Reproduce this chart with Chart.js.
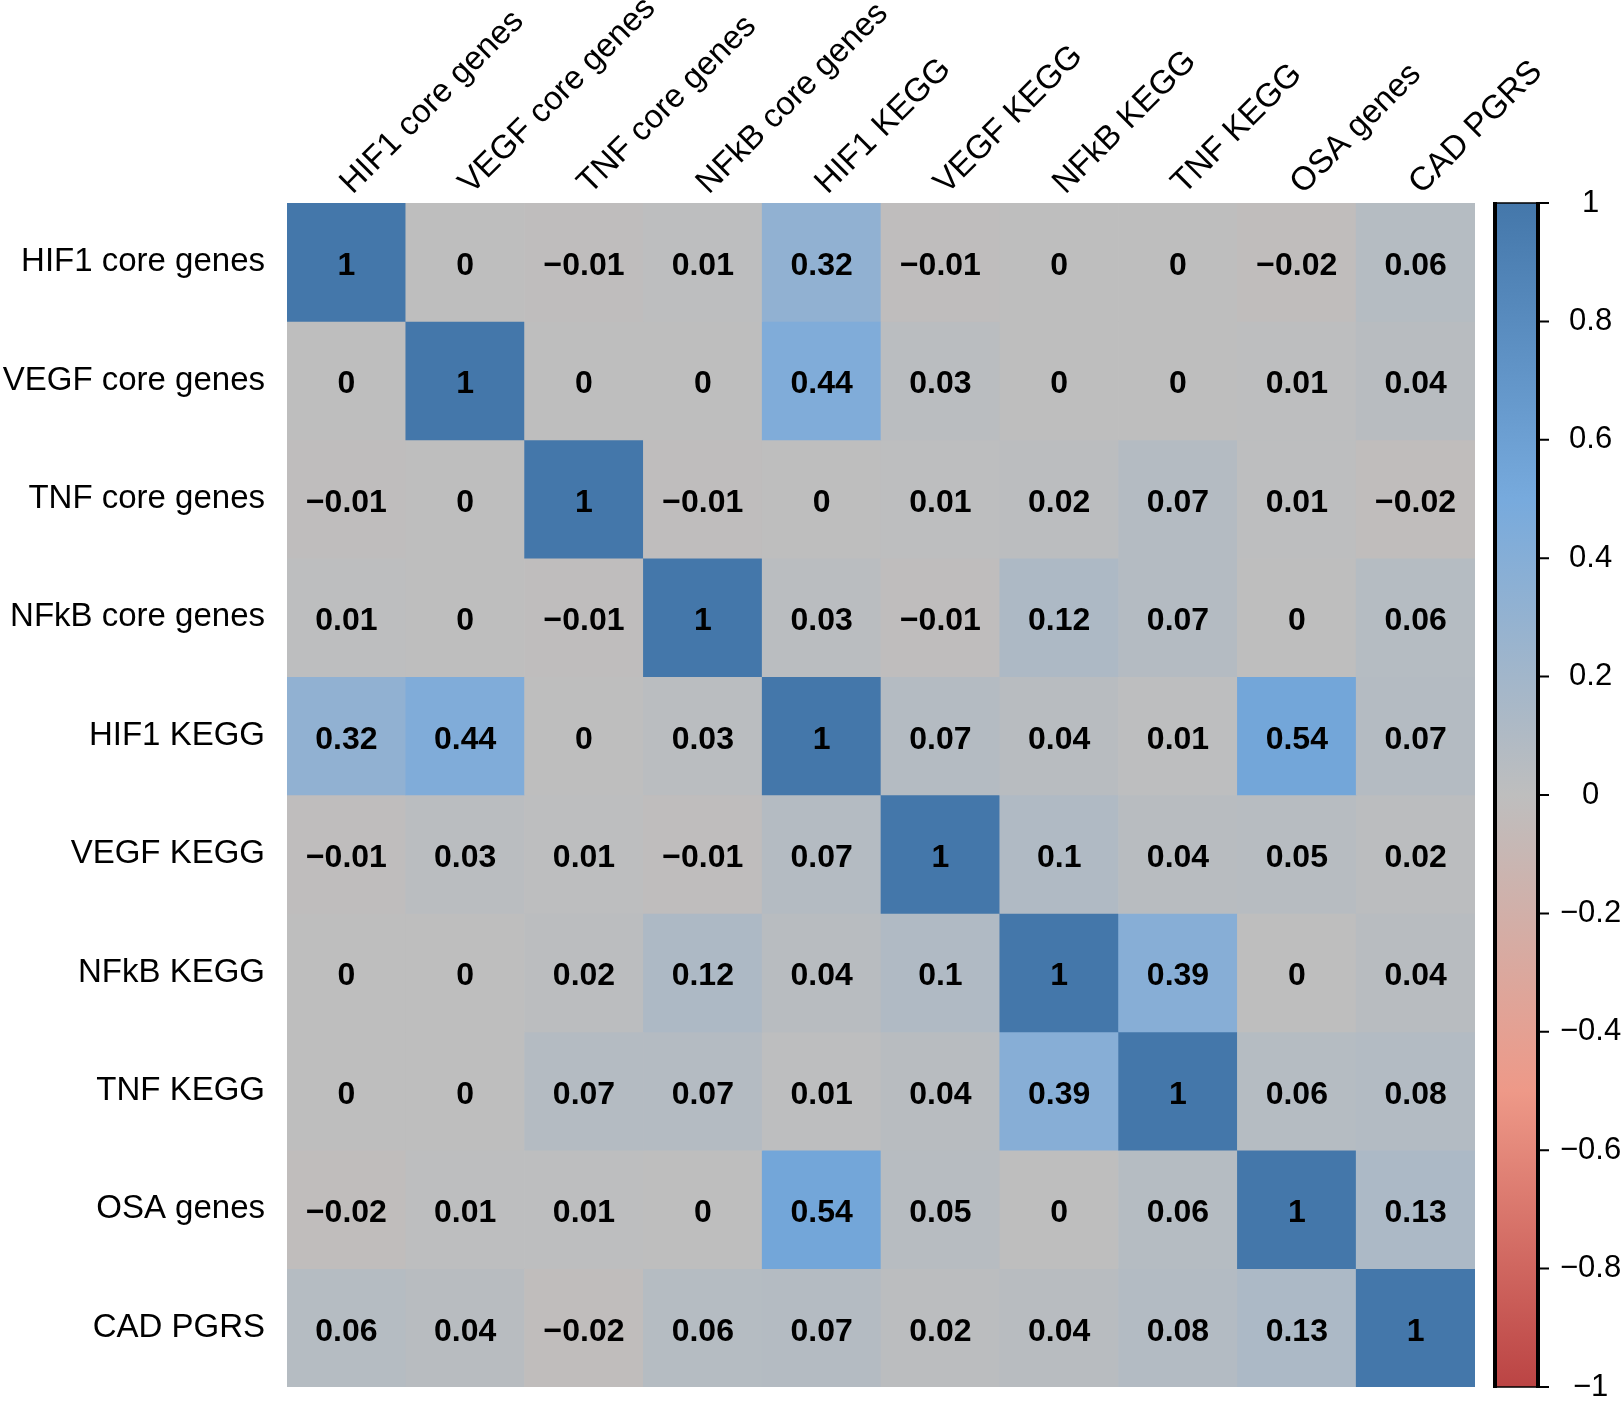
<!DOCTYPE html>
<html>
<head>
<meta charset="utf-8">
<script src="https://cdn.jsdelivr.net/npm/chart.js@4/dist/chart.umd.min.js"></script>
<style>
  html, body { margin: 0; padding: 0; background: #fff; }
  canvas { display: block; }
</style>
</head>
<body>
<canvas id="corrChart" width="1622" height="1401"></canvas>
<script>
// etiquetas de filas y columnas (misma lista)
const rowLabels = ['HIF1 core genes', 'VEGF core genes', 'TNF core genes', 'NFkB core genes', 'HIF1 KEGG',
                   'VEGF KEGG', 'NFkB KEGG', 'TNF KEGG', 'OSA genes', 'CAD PGRS'];
const colLabels = rowLabels.slice();

// correlaciones, una fila por etiqueta
const corrValues = [
    [1, 0, -0.01, 0.01, 0.32, -0.01, 0, 0, -0.02, 0.06],
    [0, 1, 0, 0, 0.44, 0.03, 0, 0, 0.01, 0.04],
    [-0.01, 0, 1, -0.01, 0, 0.01, 0.02, 0.07, 0.01, -0.02],
    [0.01, 0, -0.01, 1, 0.03, -0.01, 0.12, 0.07, 0, 0.06],
    [0.32, 0.44, 0, 0.03, 1, 0.07, 0.04, 0.01, 0.54, 0.07],
    [-0.01, 0.03, 0.01, -0.01, 0.07, 1, 0.1, 0.04, 0.05, 0.02],
    [0, 0, 0.02, 0.12, 0.04, 0.1, 1, 0.39, 0, 0.04],
    [0, 0, 0.07, 0.07, 0.01, 0.04, 0.39, 1, 0.06, 0.08],
    [-0.02, 0.01, 0.01, 0, 0.54, 0.05, 0, 0.06, 1, 0.13],
    [0.06, 0.04, -0.02, 0.06, 0.07, 0.02, 0.04, 0.08, 0.13, 1]
];

// escala de color
const paletteValues = [-1, -0.5, 0, 0.5, 1];
const paletteColors = ['#BB4444', '#EE9988', '#BEBEBE', '#77AADD', '#4477AA'];
const colorbarTicks = [1, 0.8, 0.6, 0.4, 0.2, 0, -0.2, -0.4, -0.6, -0.8, -1];

const FONT = "'Liberation Sans', Arial, Helvetica, sans-serif";

function hexToRgb(h) {
    return [parseInt(h.slice(1, 3), 16), parseInt(h.slice(3, 5), 16), parseInt(h.slice(5, 7), 16)];
}

function corrColor(v) {
    for (let i = 0; i < paletteValues.length - 1; i++) {
        const a = paletteValues[i], b = paletteValues[i + 1];
        if (v >= a && v <= b) {
            const t = (v - a) / (b - a);
            const c1 = hexToRgb(paletteColors[i]), c2 = hexToRgb(paletteColors[i + 1]);
            const c = c1.map((x, k) => Math.round(x + (c2[k] - x) * t));
            return `rgb(${c[0]},${c[1]},${c[2]})`;
        }
    }
    return paletteColors[paletteColors.length - 1];
}

function fmt(v) {
    return String(Math.round(v * 100) / 100).replace('-', '\u2212');
}

// las escalas verticales no deben reservar margen extra por sus etiquetas
function fixVertical(width) {
    return s => {
        s.width = width;
        s.paddingTop = 0;
        s.paddingBottom = 0;
    };
}

// una serie apilada por fila; cada celda mide 1 unidad
const datasets = rowLabels.map((name, r) => ({
    label: name,
    data: colLabels.map(() => 1),
    values: corrValues[r],
    backgroundColor: corrValues[r].map(corrColor),
    borderWidth: 0,
    barPercentage: 1,
    categoryPercentage: 1
}));

// texto de celdas, etiquetas de columnas y barra de color
const heatmapExtras = {
    id: 'heatmapExtras',
    afterDatasetsDraw(chart) {
        const ctx = chart.ctx;
        ctx.save();
        ctx.fillStyle = '#000';
        ctx.font = `bold 32px ${FONT}`;
        ctx.textAlign = 'center';
        ctx.textBaseline = 'middle';
        chart.data.datasets.forEach((ds, di) => {
            chart.getDatasetMeta(di).data.forEach((el, i) => {
                const p = el.getCenterPoint();
                ctx.fillText(fmt(ds.values[i]), p.x, p.y + 4);
            });
        });

        // etiquetas de columnas giradas 45°
        const xs = chart.scales.x;
        const top = chart.chartArea.top;
        ctx.font = `33px ${FONT}`;
        ctx.textAlign = 'left';
        ctx.textBaseline = 'alphabetic';
        colLabels.forEach((lab, i) => {
            const x = xs.getPixelForValue(i);
            ctx.save();
            ctx.translate(x + 6, top - 8);
            ctx.rotate(-Math.PI / 4);
            ctx.fillText(lab, 0, 0);
            ctx.restore();
        });

        // barra de color
        const cb = chart.scales.cbar;
        const x0 = cb.left + 20, x1 = cb.left + 63;
        const yTop = cb.getPixelForValue(1), yBot = cb.getPixelForValue(-1);
        const grad = ctx.createLinearGradient(0, yTop, 0, yBot);
        paletteValues.forEach((v, k) => grad.addColorStop((1 - v) / 2, paletteColors[k]));
        ctx.fillStyle = grad;
        ctx.fillRect(x0, yTop, x1 - x0, yBot - yTop);
        ctx.strokeStyle = '#000';
        ctx.lineWidth = 1.5;
        ctx.strokeRect(x0, yTop, x1 - x0, yBot - yTop);
        ctx.lineWidth = 4;
        ctx.beginPath();
        ctx.moveTo(x0, yTop - 1); ctx.lineTo(x0, yBot + 1);
        ctx.moveTo(x1, yTop - 1); ctx.lineTo(x1, yBot + 1);
        ctx.stroke();
        ctx.lineWidth = 2;
        ctx.beginPath();
        colorbarTicks.forEach(v => {
            const y = cb.getPixelForValue(v);
            ctx.moveTo(x1, y); ctx.lineTo(x1 + 11, y);
        });
        ctx.stroke();
        ctx.restore();
    }
};

new Chart(document.getElementById('corrChart'), {
    type: 'bar',
    data: { labels: colLabels, datasets },
    plugins: [heatmapExtras],
    options: {
        responsive: false,
        animation: false,
        devicePixelRatio: 1,
        layout: { padding: { top: 0, left: 0, right: 0, bottom: 14 } },
        plugins: { legend: { display: false }, tooltip: { enabled: false } },
        scales: {
            x: {
                position: 'top',
                stacked: true,
                grid: { display: false, drawTicks: false },
                border: { display: false },
                ticks: { display: false },
                afterFit: s => { s.height = 203; }
            },
            y: {
                type: 'linear',
                stacked: true,
                reverse: true,
                min: 0,
                max: 10,
                grid: { display: false, drawTicks: false },
                border: { display: false },
                afterBuildTicks: s => { s.ticks = rowLabels.map((_, i) => ({ value: i + 0.5 })); },
                afterFit: fixVertical(287),
                ticks: {
                    autoSkip: false,
                    padding: 22,
                    color: '#000',
                    font: { family: FONT, size: 33 },
                    callback: (v, i) => rowLabels[i]
                }
            },
            cbar: {
                type: 'linear',
                position: 'right',
                min: -1,
                max: 1,
                grid: { display: false, drawTicks: false },
                border: { display: false },
                afterBuildTicks: s => { s.ticks = colorbarTicks.map(v => ({ value: v })); },
                afterFit: fixVertical(147),
                ticks: {
                    autoSkip: false,
                    crossAlign: 'center',
                    padding: 85,
                    color: '#000',
                    font: { family: FONT, size: 31 },
                    callback: v => String(Math.round(v * 10) / 10).replace('-', '\u2212')
                }
            }
        }
    }
});
</script>
</body>
</html>
